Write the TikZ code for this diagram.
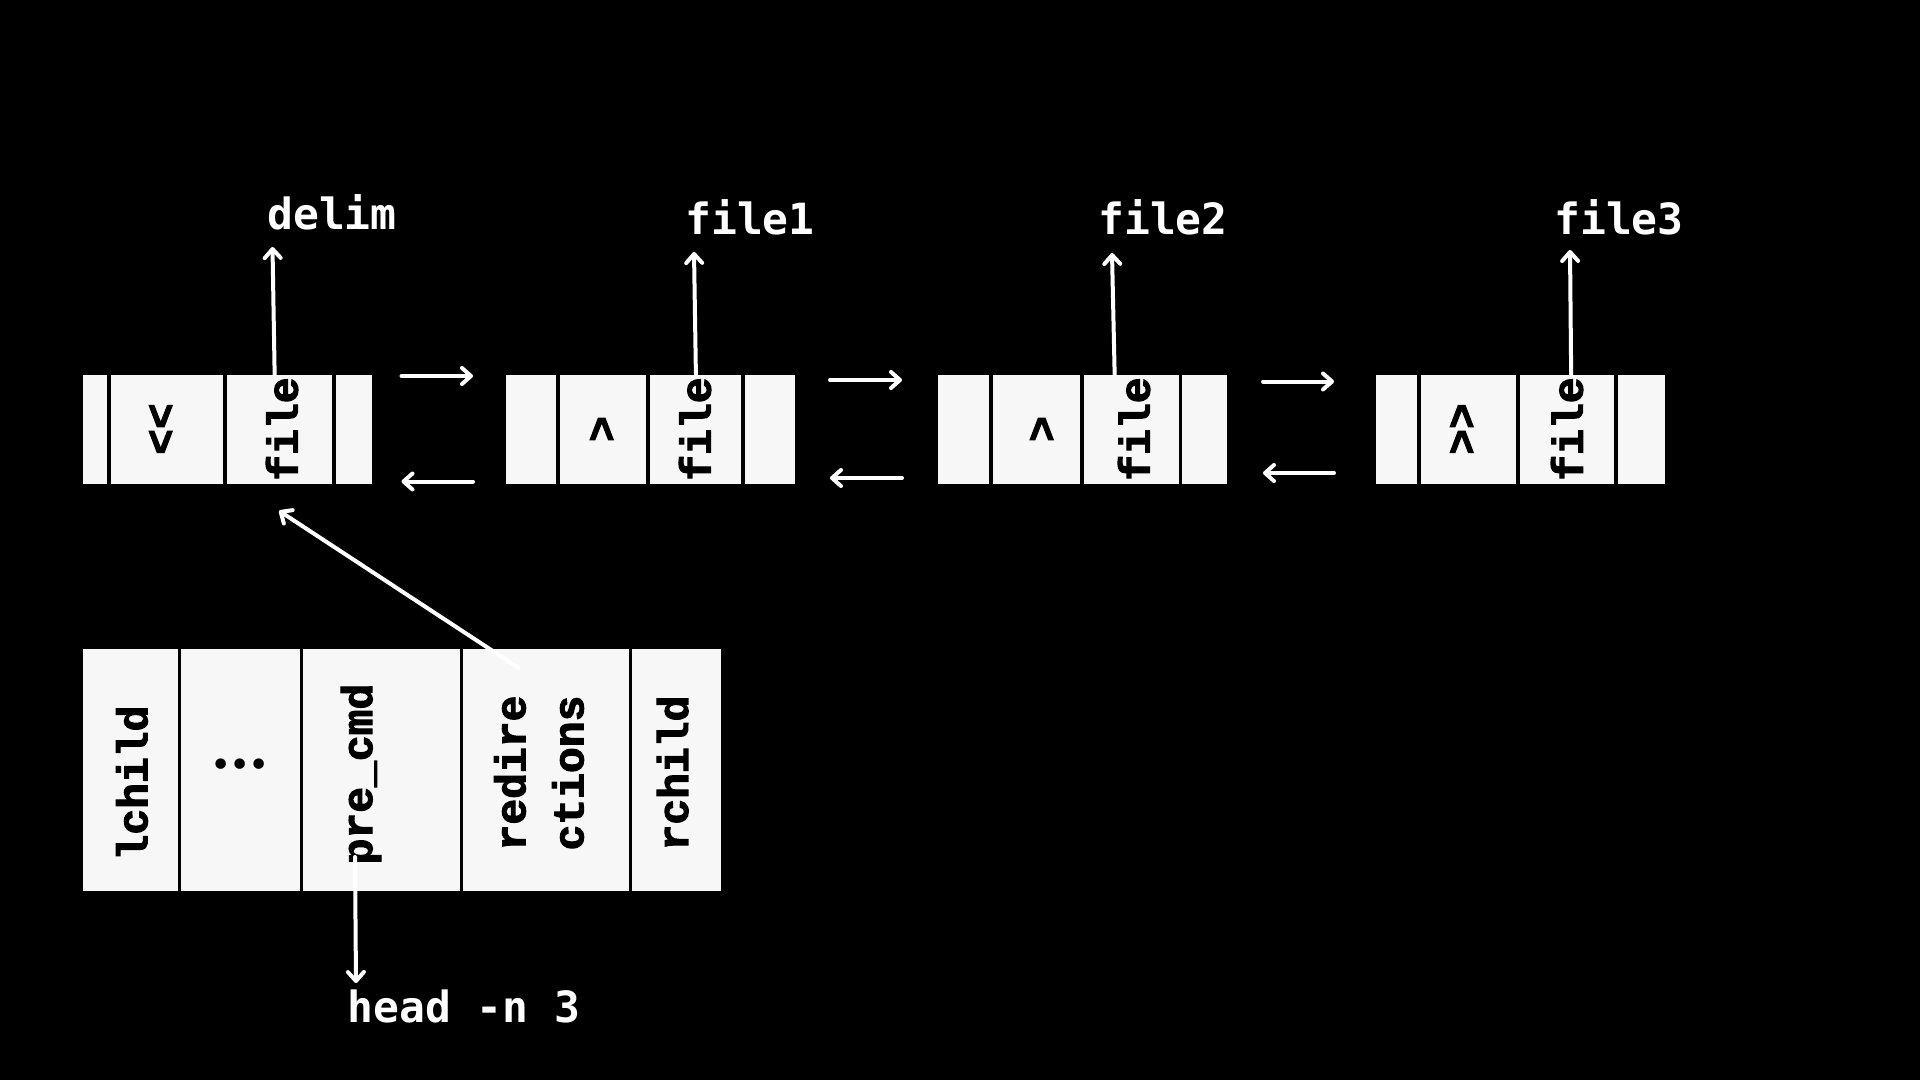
\documentclass[tikz,border=0pt]{standalone}
\usepackage{fontspec}
\usetikzlibrary{arrows.meta}
\newfontfamily\cellfont{Liberation Mono}[BoldFeatures={FakeBold=2.5}]
\newfontfamily\labfont{DejaVu Sans Mono}
\newfontfamily\dotfont{DejaVu Sans}
\definecolor{cellgray}{HTML}{F7F7F7}
\tikzset{
  cell/.style={rectangle, fill=cellgray, draw=none, inner sep=0pt, anchor=north west, minimum height=54.5pt},
  bcell/.style={rectangle, fill=cellgray, draw=none, inner sep=0pt, anchor=north west, minimum height=121pt},
  celltext/.style={text=black, inner sep=0pt, rotate=90, font=\cellfont\bfseries\fontsize{21.5pt}{29pt}\selectfont, align=center},
  lab/.style={text=white, inner sep=0pt, anchor=base, font=\labfont\bfseries\fontsize{21.5pt}{26pt}\selectfont},
  arr/.style={draw=white, line width=2pt, line cap=round, -{Straight Barb[length=4.5pt,width=8pt,line width=2pt,round]}}
}
\begin{document}
\begin{tikzpicture}[x=0.5pt,y=-0.5pt]
\fill[black] (0,0) rectangle (1920,1080);
\useasboundingbox (0,0) rectangle (1920,1080);

% top row, node 1
\node[cell, minimum width=12.25pt] (a1) at (82.5,374.5) {};
\node[cell, minimum width=56.25pt] (a2) at (110.5,374.5) {};
\node[cell, minimum width=52.75pt] (a3) at (226.5,374.5) {};
\node[cell, minimum width=18.25pt] (a4) at (335.5,374.5) {};
% node 2
\node[cell, minimum width=25.25pt] (b1) at (505.5,374.5) {};
\node[cell, minimum width=43.25pt] (b2) at (559.5,374.5) {};
\node[cell, minimum width=45.5pt] (b3) at (650,374.5) {};
\node[cell, minimum width=24.75pt] (b4) at (745,374.5) {};
% node 3
\node[cell, minimum width=25.5pt] (c1) at (938,374.5) {};
\node[cell, minimum width=43.75pt] (c2) at (992.5,374.5) {};
\node[cell, minimum width=47.25pt] (c3) at (1084,374.5) {};
\node[cell, minimum width=22.5pt] (c4) at (1182,374.5) {};
% node 4
\node[cell, minimum width=20.5pt] (d1) at (1376,374.5) {};
\node[cell, minimum width=47.75pt] (d2) at (1420.5,374.5) {};
\node[cell, minimum width=47.25pt] (d3) at (1519.5,374.5) {};
\node[cell, minimum width=23.5pt] (d4) at (1617.5,374.5) {};

% texts in top cells
\node[celltext] (ta2) at (162,429) {<<};
\node[celltext] (ta3) at (282,429) {file};
\node[celltext] (tb2) at (603,429) {>};
\node[celltext] (tb3) at (695,429) {file};
\node[celltext] (tc2) at (1043,429) {>};
\node[celltext] (tc3) at (1134,429) {file};
\node[celltext] (td2) at (1463,429) {>>};
\node[celltext] (td3) at (1567,429) {file};

% bottom structure
\node[bcell, minimum width=47.75pt] (e1) at (82.5,649) {};
\node[bcell, minimum width=59.25pt] (e2) at (181,649) {};
\node[bcell, minimum width=78.25pt] (e3) at (303,649) {};
\node[bcell, minimum width=82.75pt] (e4) at (463,649) {};
\node[bcell, minimum width=44.25pt] (e5) at (632,649) {};

\node[celltext] (te1) at (132,783) {lchild};
\node[text=black, inner sep=0pt, font=\dotfont\fontsize{18pt}{20pt}\selectfont] (te2) at (240,768) {•\kern-1.2pt•\kern-1.2pt•};
\node[celltext] (te3) at (361,774) {pre\_cmd};
\node[celltext] (te4) at (539,773) {redire\\ctions};
\node[celltext] (te5) at (672.6,773) {rchild};

% labels
\node[lab] (delim) at (332,230) {delim};
\node[lab] (file1) at (750,235) {file1};
\node[lab] (file2) at (1163,235) {file2};
\node[lab] (file3) at (1619,235) {file3};
\node[lab, anchor=base west] (head) at (347,1022) {head -n 3};

% arrow end points
\coordinate (pdelim) at (272.5,247);
\coordinate (pfile1) at (694,252);
\coordinate (pfile2) at (1112,253);
\coordinate (pfile3) at (1570,250);
\coordinate (phead) at (356,983);
\coordinate (pred) at (518.7,668);
\coordinate (ppre) at (355,857);

\draw[arr] ([xshift=-2.5pt]a3.north) -- (pdelim);
\draw[arr] (b3.north) -- (pfile1);
\draw[arr] ([xshift=-8.5pt]c3.north) -- (pfile2);
\draw[arr] ([xshift=2pt]d3.north) -- (pfile3);

% next / prev arrows
\coordinate (r1s) at (401.5,376);  \coordinate (r1e) at (473,376);
\coordinate (l1s) at (473,481.5);  \coordinate (l1e) at (401.5,481.5);
\coordinate (r2s) at (830,380);    \coordinate (r2e) at (902,380);
\coordinate (l2s) at (902,478);    \coordinate (l2e) at (830,478);
\coordinate (r3s) at (1263,381.5); \coordinate (r3e) at (1334,381.5);
\coordinate (l3s) at (1334,473);   \coordinate (l3e) at (1263,473);
\draw[arr] (r1s) -- (r1e);
\draw[arr] (l1s) -- (l1e);
\draw[arr] (r2s) -- (r2e);
\draw[arr] (l2s) -- (l2e);
\draw[arr] (r3s) -- (r3e);
\draw[arr] (l3s) -- (l3e);

% redirections -> first redirection node
\draw[arr] (pred) -- ([xshift=-0.3pt,yshift=-13.25pt]a3.south);
% pre_cmd -> head -n 3
\draw[arr] (ppre) -- (phead);
\end{tikzpicture}
\end{document}
